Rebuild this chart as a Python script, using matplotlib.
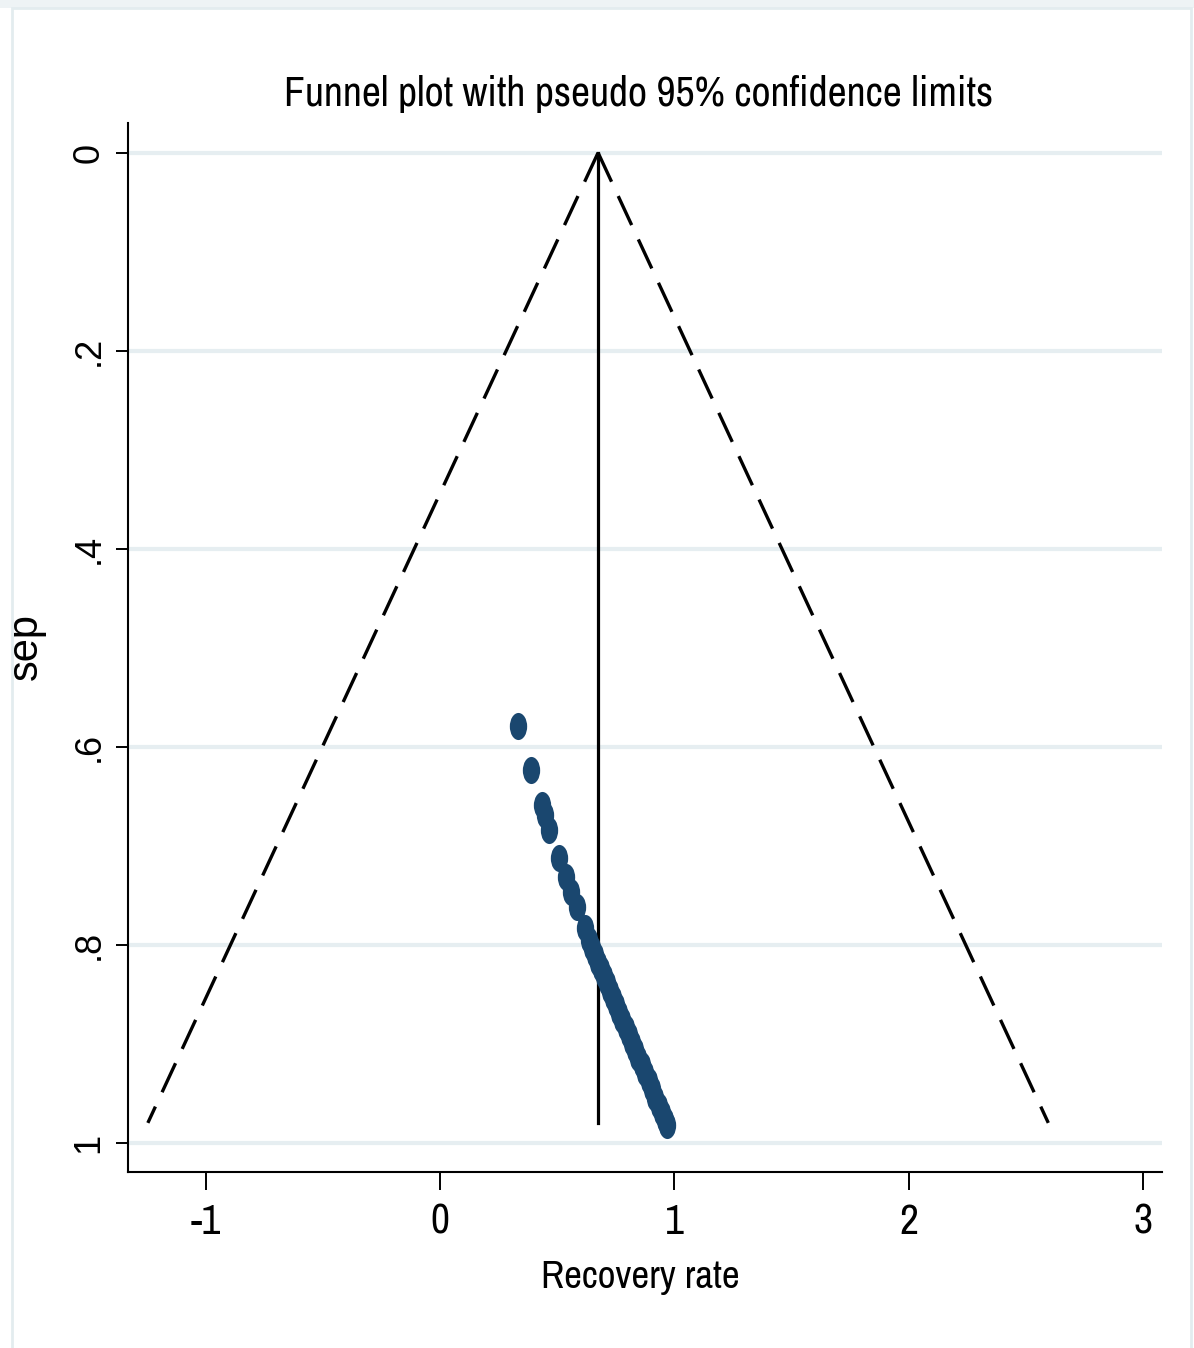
import matplotlib
matplotlib.use('Agg')
import matplotlib.pyplot as plt
from matplotlib.path import Path
from matplotlib.transforms import Affine2D
from matplotlib.patches import Rectangle

# ---- data ----
recovery_rate = [0.331, 0.388, 0.434, 0.448, 0.466, 0.508, 0.536, 0.559, 0.582,
                 0.618, 0.635, 0.649, 0.661, 0.674, 0.687, 0.699, 0.712, 0.726,
                 0.739, 0.751, 0.765, 0.778, 0.792, 0.805, 0.819, 0.832, 0.846,
                 0.861, 0.875, 0.890, 0.904, 0.918, 0.933, 0.946, 0.958, 0.967]
sep = [0.579, 0.624, 0.659, 0.669, 0.684, 0.712, 0.732, 0.747, 0.762,
       0.783, 0.795, 0.803, 0.810, 0.818, 0.825, 0.832, 0.839, 0.847,
       0.854, 0.861, 0.869, 0.876, 0.884, 0.891, 0.899, 0.906, 0.914,
       0.922, 0.930, 0.938, 0.946, 0.955, 0.963, 0.970, 0.977, 0.982]
pooled_estimate = 0.674
max_se = 0.980
z95 = 1.96

x_ticks = [-1, 0, 1, 2, 3]
x_tick_labels = ['-1', '0', '1', '2', '3']
y_ticks = [0, 0.2, 0.4, 0.6, 0.8, 1.0]
y_tick_labels = ['0', '.2', '.4', '.6', '.8', '1']

title = 'Funnel plot with pseudo 95% confidence limits'
x_label = 'Recovery rate'
y_label = 'sep'

# ---- style ----
NARROW = ['Archivo Narrow', 'Liberation Sans', 'DejaVu Sans']
REG = ['Liberation Sans', 'DejaVu Sans']
W, H = 1194, 1348
navy = '#1a476f'
grid_c = '#e6eef1'

fig = plt.figure(figsize=(W / 100, H / 100), dpi=100)
fig.patch.set_facecolor('white')

# graph-region border (Stata style)
fig.patches.append(Rectangle((0, 1 - 8 / H), 1, 8 / H, transform=fig.transFigure,
                             facecolor='#eef3f5', edgecolor='none', zorder=0))
fig.patches.append(Rectangle((12 / W, -0.01), (1191 - 12) / W, 1.01 - 8 / H,
                             transform=fig.transFigure, fill=False,
                             edgecolor='#e3ecef', lw=2, zorder=0))

ax = fig.add_axes([128 / W, 1 - 1172 / H, (1162 - 128) / W, (1172 - 123) / H])
ax.set_xlim(-1.3315, 3.0798)
ax.set_ylim(1.0296, -0.0300)

for s in ['top', 'right']:
    ax.spines[s].set_visible(False)
for s in ['left', 'bottom']:
    ax.spines[s].set_linewidth(1.5)
    ax.spines[s].set_color('black')

ax.set_xticks(x_ticks)
ax.set_xticklabels(x_tick_labels, fontfamily=NARROW, fontsize=30)
ax.set_yticks(y_ticks)
ax.set_yticklabels(y_tick_labels, fontfamily=REG, fontsize=26, rotation=90,
                   va='center')
ax.tick_params(axis='x', length=13, width=1.4, pad=9)
ax.tick_params(axis='y', length=8.5, width=1.4, pad=7)

ax.yaxis.grid(True, color=grid_c, lw=3)
ax.xaxis.grid(False)
ax.set_axisbelow(True)

# pseudo 95% confidence limits
lower = pooled_estimate - z95 * max_se
upper = pooled_estimate + z95 * max_se
dash = (0, (9.6, 4.74))
ax.plot([pooled_estimate, lower], [0, max_se], color='black', lw=2.4,
        ls=dash, zorder=2)
ax.plot([pooled_estimate, upper], [0, max_se], color='black', lw=2.4,
        ls=dash, zorder=2)
ax.plot([pooled_estimate, pooled_estimate], [0, max_se], color='black',
        lw=2.3, zorder=2)

# elliptical markers (stretched circles as in the reference)
ell = Path.unit_circle().transformed(Affine2D().scale(0.64, 1.0))
ax.plot(recovery_rate, sep, ls='none', marker=ell, ms=19.5, color=navy,
        mec='none', zorder=3)

fig.text(639 / W, 1 - 106 / H, title, fontfamily=NARROW, fontsize=30,
         ha='center', va='baseline')
fig.text(640 / W, 1 - 1288 / H, x_label, fontfamily=NARROW, fontsize=28,
         ha='center', va='baseline')
fig.text(26 / W, 1 - 646 / H, y_label, fontfamily=REG, fontsize=30,
         ha='center', va='center', rotation=90)

fig.savefig('out.png', dpi=100)
